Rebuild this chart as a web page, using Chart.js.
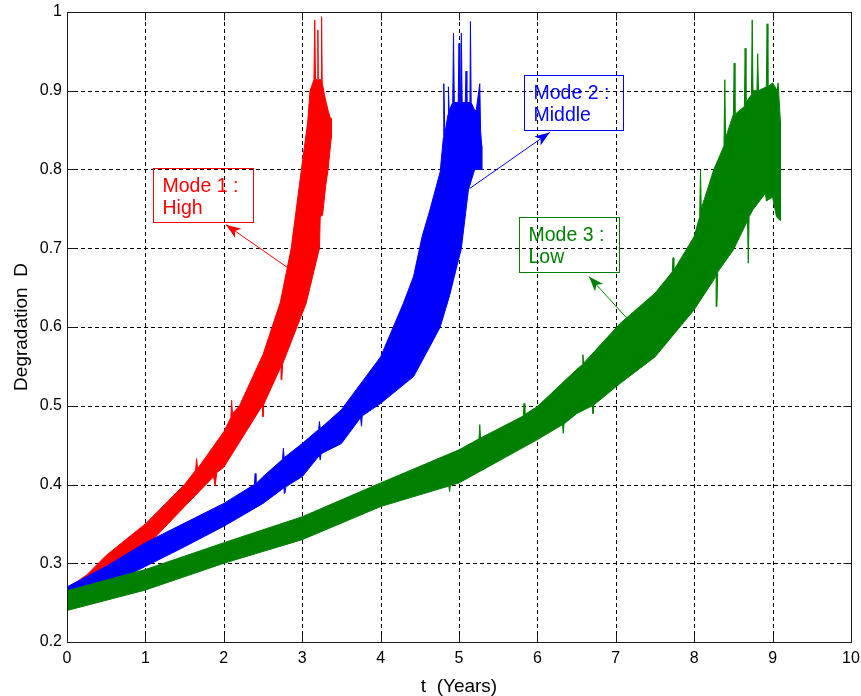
<!DOCTYPE html>
<html>
<head>
<meta charset="utf-8">
<title>Degradation D vs t</title>
<script src="https://cdn.jsdelivr.net/npm/chart.js@4.4.1/dist/chart.umd.min.js"></script>
<style>
  html, body { margin: 0; padding: 0; background: #fff; }
  #wrap { width: 861px; height: 696px; }
</style>
</head>
<body>
<div id="wrap"><canvas id="chart" width="861" height="696"></canvas></div>
<script>
// Axis ticks
const xTicks = [0, 1, 2, 3, 4, 5, 6, 7, 8, 9, 10];
const yTicks = [0.2, 0.3, 0.4, 0.5, 0.6, 0.7, 0.8, 0.9, 1];
const yTickLabels = ['0.2', '0.3', '0.4', '0.5', '0.6', '0.7', '0.8', '0.9', '1'];

// Noisy bands, read off the picture as upper / lower envelopes, [t, D]
// (the short spikes are the tallest noise sticks visible on each edge)
const mode1Upper = [
  [0, 0.268], [0.25, 0.285], [0.5, 0.31], [0.75, 0.33], [1.0, 0.35], [1.5, 0.40],
  [1.64, 0.418], [1.653, 0.433], [1.665, 0.42], [2.0, 0.467], [2.09, 0.485], [2.10, 0.507],
  [2.11, 0.49], [2.2, 0.50], [2.5, 0.565], [2.72, 0.631], [2.86, 0.70], [2.99, 0.80],
  [3.07, 0.86], [3.10, 0.90], [3.15, 0.914], [3.16, 0.99], [3.17, 0.914], [3.195, 0.914],
  [3.20, 0.977], [3.205, 0.914], [3.24, 0.914], [3.247, 0.994], [3.255, 0.91],
  [3.29, 0.892], [3.33, 0.875], [3.36, 0.865], [3.37, 0.865]
];
const mode1Lower = [
  [0, 0.25], [0.25, 0.262], [0.5, 0.283], [0.8, 0.30], [1.0, 0.32], [1.5, 0.372],
  [1.87, 0.41], [1.89, 0.398], [1.91, 0.415], [2.0, 0.422], [2.49, 0.50], [2.50, 0.486],
  [2.51, 0.502], [2.73, 0.55], [2.74, 0.533], [2.75, 0.553], [2.82, 0.571], [3.05, 0.63],
  [3.22, 0.70], [3.23, 0.74], [3.26, 0.742], [3.30, 0.78], [3.33, 0.80], [3.37, 0.84]
];

const mode2Upper = [
  [0, 0.27], [0.5, 0.296], [1.0, 0.326], [1.5, 0.351], [2.0, 0.376], [2.39, 0.40],
  [2.40, 0.414], [2.41, 0.401], [2.5, 0.41], [2.75, 0.432], [2.76, 0.446], [2.77, 0.434],
  [3.0, 0.452], [3.21, 0.47], [3.22, 0.48], [3.23, 0.471], [3.5, 0.495], [4.0, 0.562],
  [4.29, 0.63], [4.42, 0.664], [4.53, 0.715], [4.63, 0.749], [4.76, 0.797], [4.80, 0.84],
  [4.806, 0.909], [4.82, 0.845], [4.86, 0.87], [4.865, 0.905], [4.875, 0.875], [4.92, 0.885],
  [4.93, 0.973], [4.94, 0.885], [4.99, 0.885], [5.0, 0.96], [5.01, 0.885], [5.02, 0.885],
  [5.03, 0.973], [5.04, 0.885], [5.08, 0.885], [5.09, 0.925], [5.10, 0.885], [5.14, 0.885],
  [5.146, 0.988], [5.155, 0.885], [5.2, 0.875], [5.22, 0.875], [5.265, 0.909], [5.275, 0.85],
  [5.29, 0.83]
];
const mode2Lower = [
  [0, 0.247], [0.5, 0.271], [1.0, 0.296], [1.5, 0.321], [2.0, 0.347], [2.5, 0.376],
  [2.77, 0.396], [2.78, 0.389], [2.79, 0.397], [3.0, 0.41], [3.22, 0.437], [3.23, 0.431],
  [3.24, 0.439], [3.5, 0.452], [3.745, 0.485], [3.756, 0.474], [3.765, 0.487], [4.0, 0.503],
  [4.42, 0.537], [4.6, 0.57], [4.76, 0.60], [4.88, 0.64], [5.03, 0.70], [5.12, 0.774],
  [5.2, 0.80], [5.29, 0.80]
];

const mode3Upper = [
  [0, 0.265], [1, 0.292], [2, 0.326], [3, 0.359], [4, 0.402], [5, 0.444], [5.255, 0.458],
  [5.265, 0.476], [5.275, 0.459], [5.82, 0.487], [5.83, 0.503], [5.84, 0.489], [6, 0.499],
  [6.5, 0.546], [6.57, 0.552], [6.58, 0.565], [6.59, 0.554], [7.05, 0.604], [7.5, 0.643],
  [7.72, 0.67], [7.73, 0.688], [7.74, 0.672], [8.0, 0.715], [8.07, 0.74], [8.08, 0.799],
  [8.09, 0.75], [8.25, 0.80], [8.38, 0.83], [8.39, 0.914], [8.40, 0.84], [8.5, 0.87],
  [8.51, 0.935], [8.52, 0.87], [8.64, 0.88], [8.65, 0.954], [8.66, 0.885], [8.73, 0.895],
  [8.74, 0.99], [8.75, 0.90], [8.80, 0.90], [8.81, 0.947], [8.82, 0.90], [8.92, 0.905],
  [8.93, 0.985], [8.94, 0.905], [9.0, 0.91], [9.06, 0.90], [9.07, 0.91], [9.1, 0.86]
];
const mode3Lower = [
  [0, 0.24], [1, 0.266], [2, 0.30], [3, 0.33], [4, 0.372], [4.87, 0.398], [4.88, 0.391],
  [4.89, 0.399], [5, 0.402], [6, 0.457], [6.32, 0.476], [6.33, 0.465], [6.34, 0.477],
  [6.5, 0.49], [6.70, 0.50], [6.71, 0.49], [6.72, 0.501], [7.05, 0.528], [7.5, 0.562],
  [8.0, 0.622], [8.25, 0.66], [8.28, 0.665], [8.29, 0.626], [8.30, 0.67], [8.5, 0.698],
  [8.68, 0.735], [8.69, 0.681], [8.70, 0.74], [8.75, 0.749], [8.91, 0.77], [8.92, 0.76],
  [9.0, 0.765], [9.05, 0.74], [9.1, 0.735]
];

// Text boxes with arrows (data coordinates)
const notes = [
  { lines: ['Mode 1 :', 'High'], color: '#ff0000', box: [1.096, 0.802, 2.371, 0.733], from: [2.82, 0.675], to: [2.027, 0.730] },
  { lines: ['Mode 2 :', 'Middle'], color: '#0000ff', box: [5.826, 0.920, 7.087, 0.850], from: [5.137, 0.776], to: [6.157, 0.847] },
  { lines: ['Mode 3 :', 'Low'], color: '#008000', box: [5.762, 0.740, 7.036, 0.670], from: [7.198, 0.605], to: [6.658, 0.664] }
];

const FONT = '"Liberation Sans", Arial, Helvetica, sans-serif';

// closed polygon: upper edge forward, lower edge back
function band(upper, lower) {
  return upper.concat(lower.slice().reverse()).map(([x, y]) => ({ x, y }));
}

function bandDataset(label, upper, lower, color, order) {
  return {
    label: label,
    data: band(upper, lower),
    borderColor: color,
    backgroundColor: color,
    borderWidth: 1,
    fill: 'shape',
    pointRadius: 0,
    tension: 0,
    order: order
  };
}

// dotted grid under the data, box + inward ticks on top
const gridPlugin = {
  id: 'matlabGrid',
  beforeDatasetsDraw(chart) {
    const { ctx, chartArea: a, scales: { x, y } } = chart;
    ctx.save();
    ctx.strokeStyle = '#000';
    ctx.lineWidth = 1;
    ctx.setLineDash([4, 3]);
    xTicks.slice(1, -1).forEach(v => {
      const px = Math.round(x.getPixelForValue(v)) + 0.5;
      ctx.beginPath();
      ctx.moveTo(px, a.bottom);
      ctx.lineTo(px, a.top);
      ctx.stroke();
    });
    yTicks.slice(1, -1).forEach(v => {
      const py = Math.round(y.getPixelForValue(v)) + 0.5;
      ctx.beginPath();
      ctx.moveTo(a.left, py);
      ctx.lineTo(a.right, py);
      ctx.stroke();
    });
    ctx.restore();
  },
  afterDatasetsDraw(chart) {
    const { ctx, chartArea: a, scales: { x, y } } = chart;
    const l = Math.round(a.left) + 0.5, r = Math.round(a.right) + 0.5;
    const t = Math.round(a.top) + 0.5, b = Math.round(a.bottom) + 0.5;
    ctx.save();
    ctx.strokeStyle = '#1a1a1a';
    ctx.lineWidth = 1;
    ctx.strokeRect(l, t, r - l, b - t);
    const len = 8;
    ctx.beginPath();
    xTicks.forEach(v => {
      const px = Math.round(x.getPixelForValue(v)) + 0.5;
      ctx.moveTo(px, b); ctx.lineTo(px, b - len);
      ctx.moveTo(px, t); ctx.lineTo(px, t + len);
    });
    yTicks.forEach(v => {
      const py = Math.round(y.getPixelForValue(v)) + 0.5;
      ctx.moveTo(l, py); ctx.lineTo(l + len, py);
      ctx.moveTo(r, py); ctx.lineTo(r - len, py);
    });
    ctx.stroke();
    ctx.restore();
  }
};

// annotation boxes + arrows
const notesPlugin = {
  id: 'notes',
  afterDatasetsDraw(chart) {
    const { ctx, scales: { x, y } } = chart;
    ctx.save();
    notes.forEach(n => {
      const x1 = Math.round(x.getPixelForValue(n.box[0])) + 0.5;
      const y1 = Math.round(y.getPixelForValue(n.box[1])) + 0.5;
      const x2 = Math.round(x.getPixelForValue(n.box[2])) + 0.5;
      const y2 = Math.round(y.getPixelForValue(n.box[3])) + 0.5;
      ctx.strokeStyle = n.color;
      ctx.fillStyle = n.color;
      ctx.lineWidth = 1;
      ctx.strokeRect(x1, y1, x2 - x1, y2 - y1);
      ctx.font = '19.5px ' + FONT;
      ctx.textAlign = 'left';
      ctx.textBaseline = 'alphabetic';
      ctx.fillText(n.lines[0], x1 + 9, y1 + 23);
      ctx.fillText(n.lines[1], x1 + 9, y1 + 45.5);

      const fx = x.getPixelForValue(n.from[0]), fy = y.getPixelForValue(n.from[1]);
      const tx = x.getPixelForValue(n.to[0]), ty = y.getPixelForValue(n.to[1]);
      ctx.beginPath();
      ctx.moveTo(fx, fy);
      ctx.lineTo(tx, ty);
      ctx.stroke();
      const ang = Math.atan2(ty - fy, tx - fx);
      const headLen = 15, headW = 5.5, notch = 4;
      const ux = Math.cos(ang), uy = Math.sin(ang);
      const bx = tx - ux * headLen, by = ty - uy * headLen;
      ctx.beginPath();
      ctx.moveTo(tx, ty);
      ctx.lineTo(bx - uy * headW, by + ux * headW);
      ctx.lineTo(tx - ux * (headLen - notch), ty - uy * (headLen - notch));
      ctx.lineTo(bx + uy * headW, by - ux * headW);
      ctx.closePath();
      ctx.fill();
    });
    ctx.restore();
  }
};

const ctx = document.getElementById('chart').getContext('2d');
const chart = new Chart(ctx, {
  type: 'line',
  data: {
    datasets: [
      bandDataset('Mode 1 : High', mode1Upper, mode1Lower, '#ff0000', 3),
      bandDataset('Mode 2 : Middle', mode2Upper, mode2Lower, '#0000ff', 2),
      bandDataset('Mode 3 : Low', mode3Upper, mode3Lower, '#008000', 1)
    ]
  },
  options: {
    responsive: false,
    animation: false,
    devicePixelRatio: 1,
    layout: { padding: { top: 12, right: 10, left: 0, bottom: 0 } },
    plugins: {
      legend: { display: false },
      tooltip: { enabled: false }
    },
    scales: {
      x: {
        type: 'linear',
        min: 0,
        max: 10,
        afterBuildTicks: s => { s.ticks = xTicks.map(v => ({ value: v })); },
        afterFit: s => { s.height = 54; s.paddingLeft = 0; s.paddingRight = 0; },
        grid: { display: false, drawTicks: false },
        border: { display: false },
        ticks: {
          color: '#000',
          padding: 7,
          maxRotation: 0,
          autoSkip: false,
          font: { family: FONT, size: 16 },
          callback: v => String(v)
        },
        title: {
          display: true,
          text: 't  (Years)',
          color: '#000',
          padding: { top: 0, bottom: 0 },
          font: { family: FONT, size: 19, lineHeight: 1 }
        }
      },
      y: {
        type: 'linear',
        min: 0.2,
        max: 1,
        afterBuildTicks: s => { s.ticks = yTicks.map(v => ({ value: v })); },
        afterFit: s => { s.width = 67; s.paddingTop = 0; s.paddingBottom = 0; },
        grid: { display: false, drawTicks: false },
        border: { display: false },
        ticks: {
          color: '#000',
          padding: 5,
          autoSkip: false,
          font: { family: FONT, size: 16 },
          callback: (v, i) => yTickLabels[i]
        },
        title: {
          display: true,
          text: 'Degradation  D',
          color: '#000',
          padding: { top: 12, bottom: 0 },
          font: { family: FONT, size: 19, lineHeight: 1 }
        }
      }
    }
  },
  plugins: [gridPlugin, notesPlugin]
});
</script>
</body>
</html>
